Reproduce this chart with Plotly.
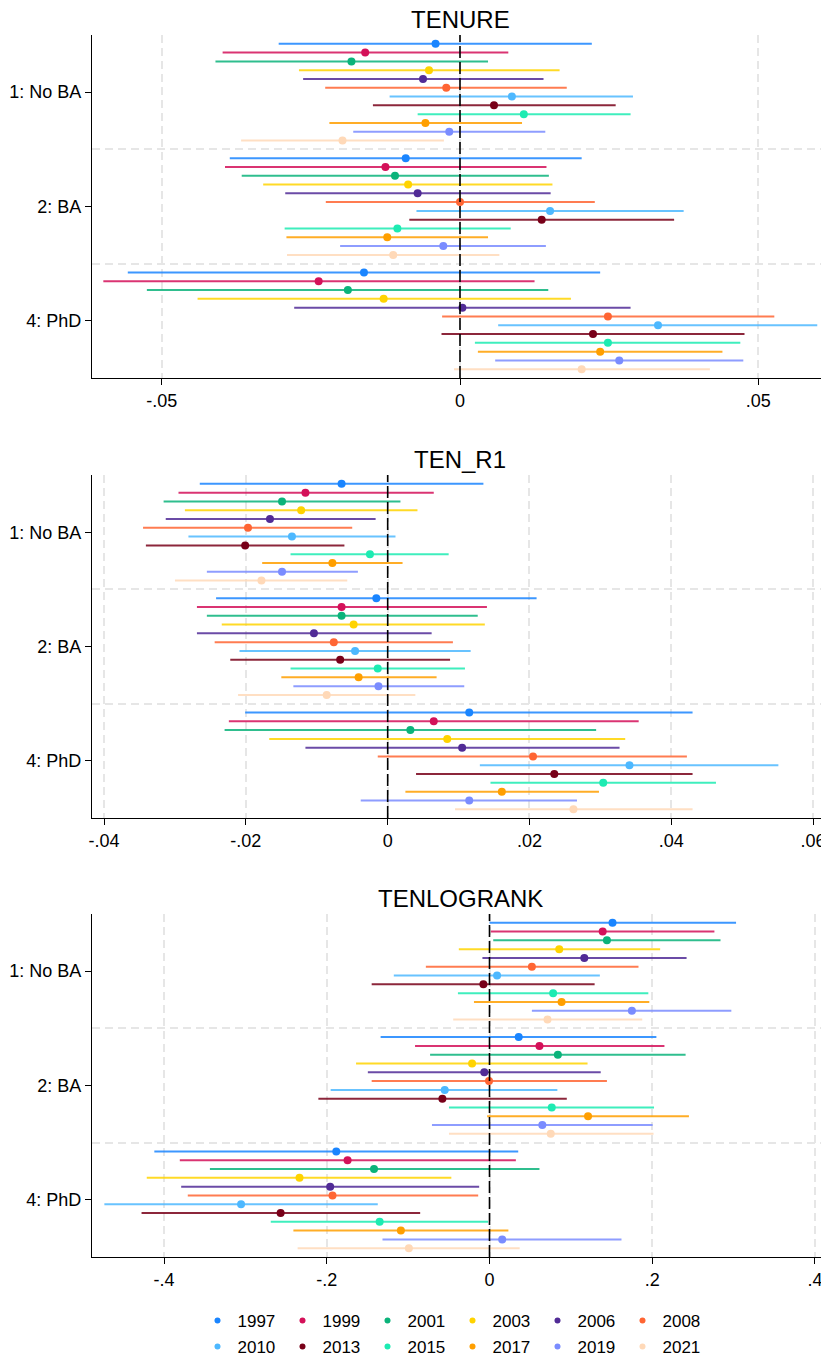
import plotly.graph_objects as go
from plotly.subplots import make_subplots

years = ["1997", "1999", "2001", "2003", "2006", "2008",
         "2010", "2013", "2015", "2017", "2019", "2021"]
colors = ["#1A85FF", "#D41159", "#0BB37A", "#FFD300", "#512B96", "#FF6533",
          "#4DB8FF", "#780019", "#1DEBB2", "#FF9F00", "#7A8CFF", "#FFD9B8"]
groups = ["1: No BA", "2: BA", "4: PhD"]
titles = ["TENURE", "TEN_R1", "TENLOGRANK"]

# ---- TENURE ----
tenure_b = [
    [-0.0041, -0.0159, -0.0182, -0.0052, -0.0062, -0.0023, 0.0087, 0.0057, 0.0107, -0.0058, -0.0018, -0.0197],
    [-0.0091, -0.0125, -0.0109, -0.0087, -0.0071, 0.0000, 0.0151, 0.0137, -0.0105, -0.0122, -0.0028, -0.0112],
    [-0.0161, -0.0237, -0.0188, -0.0128, 0.0004, 0.0248, 0.0332, 0.0223, 0.0248, 0.0235, 0.0267, 0.0204],
]
tenure_lo = [
    [-0.0304, -0.0398, -0.0410, -0.0270, -0.0263, -0.0226, -0.0118, -0.0146, -0.0071, -0.0219, -0.0179, -0.0367],
    [-0.0386, -0.0394, -0.0366, -0.0330, -0.0293, -0.0225, -0.0073, -0.0085, -0.0294, -0.0291, -0.0201, -0.0290],
    [-0.0557, -0.0598, -0.0525, -0.0440, -0.0278, -0.0030, 0.0064, -0.0031, 0.0025, 0.0030, 0.0059, -0.0010],
]
tenure_hi = [
    [0.0221, 0.0081, 0.0047, 0.0167, 0.0140, 0.0179, 0.0290, 0.0261, 0.0286, 0.0104, 0.0143, -0.0027],
    [0.0204, 0.0145, 0.0149, 0.0155, 0.0152, 0.0226, 0.0375, 0.0359, 0.0085, 0.0047, 0.0144, 0.0066],
    [0.0235, 0.0125, 0.0148, 0.0186, 0.0286, 0.0527, 0.0599, 0.0477, 0.0470, 0.0440, 0.0475, 0.0419],
]

# ---- TEN_R1 ----
tenr1_b = [
    [-0.0065, -0.0116, -0.0149, -0.0122, -0.0166, -0.0197, -0.0135, -0.0201, -0.0025, -0.0078, -0.0149, -0.0178],
    [-0.0016, -0.0065, -0.0065, -0.0048, -0.0104, -0.0076, -0.0046, -0.0067, -0.0014, -0.0041, -0.0013, -0.0086],
    [0.0115, 0.0065, 0.0032, 0.0084, 0.0105, 0.0205, 0.0341, 0.0235, 0.0304, 0.0161, 0.0115, 0.0262],
]
tenr1_lo = [
    [-0.0265, -0.0295, -0.0316, -0.0286, -0.0313, -0.0345, -0.0281, -0.0341, -0.0137, -0.0177, -0.0255, -0.0300],
    [-0.0242, -0.0269, -0.0255, -0.0234, -0.0269, -0.0244, -0.0209, -0.0222, -0.0137, -0.0150, -0.0133, -0.0211],
    [-0.0201, -0.0224, -0.0230, -0.0167, -0.0116, -0.0014, 0.0130, 0.0040, 0.0145, 0.0025, -0.0038, 0.0095],
]
tenr1_hi = [
    [0.0135, 0.0065, 0.0018, 0.0042, -0.0017, -0.0050, 0.0011, -0.0061, 0.0086, 0.0021, -0.0042, -0.0057],
    [0.0210, 0.0140, 0.0127, 0.0137, 0.0062, 0.0092, 0.0117, 0.0088, 0.0109, 0.0069, 0.0108, 0.0039],
    [0.0430, 0.0354, 0.0294, 0.0335, 0.0327, 0.0422, 0.0551, 0.0430, 0.0463, 0.0298, 0.0267, 0.0430],
]

# ---- TENLOGRANK ----
tenlog_b = [
    [0.1512, 0.1391, 0.1443, 0.0857, 0.1165, 0.0521, 0.0093, -0.0075, 0.0782, 0.0886, 0.1750, 0.0713],
    [0.0359, 0.0614, 0.0840, -0.0214, -0.0064, -0.0006, -0.0550, -0.0579, 0.0765, 0.1211, 0.0649, 0.0753],
    [-0.1883, -0.1744, -0.1419, -0.2335, -0.1958, -0.1929, -0.3053, -0.2567, -0.1350, -0.1089, 0.0156, -0.0991],
]
tenlog_lo = [
    [0.0000, 0.0017, 0.0046, -0.0377, -0.0087, -0.0782, -0.1176, -0.1448, -0.0388, -0.0191, 0.0521, -0.0446],
    [-0.1338, -0.0915, -0.0730, -0.1640, -0.1495, -0.1448, -0.1952, -0.2103, -0.0498, -0.0029, -0.0707, -0.0498],
    [-0.4119, -0.3806, -0.3436, -0.4212, -0.3789, -0.3708, -0.4733, -0.4276, -0.2688, -0.2410, -0.1315, -0.2358],
]
tenlog_hi = [
    [0.3030, 0.2764, 0.2839, 0.2097, 0.2422, 0.1831, 0.1356, 0.1292, 0.1952, 0.1964, 0.2972, 0.1877],
    [0.2051, 0.2150, 0.2410, 0.1205, 0.1367, 0.1443, 0.0834, 0.0950, 0.2022, 0.2451, 0.2005, 0.2016],
    [0.0353, 0.0324, 0.0614, -0.0469, -0.0127, -0.0139, -0.1373, -0.0852, -0.0017, 0.0232, 0.1622, 0.0371],
]

x_tickvals = [[-0.05, 0, 0.05],
              [-0.04, -0.02, 0, 0.02, 0.04, 0.06],
              [-0.4, -0.2, 0, 0.2, 0.4]]
x_ticktext = [["-.05", "0", ".05"],
              ["-.04", "-.02", "0", ".02", ".04", ".06"],
              ["-.4", "-.2", "0", ".2", ".4"]]
x_ranges = [[-0.0617, 0.0617], [-0.0417, 0.0621], [-0.4885, 0.416]]

panels = [(tenure_b, tenure_lo, tenure_hi),
          (tenr1_b, tenr1_lo, tenr1_hi),
          (tenlog_b, tenlog_lo, tenlog_hi)]

FONT = "Liberation Sans, Arial, sans-serif"
NROW = len(years)
GAP = NROW + 1


def rgba(hexc, a):
    h = hexc.lstrip("#")
    return "rgba(%d,%d,%d,%.2f)" % (int(h[0:2], 16), int(h[2:4], 16), int(h[4:6], 16), a)


fig = make_subplots(rows=3, cols=1)

for p, (B, LO, HI) in enumerate(panels):
    for i, yr in enumerate(years):
        xs, ys, ep, em = [], [], [], []
        for g in range(len(groups)):
            b = B[g][i]
            xs.append(b)
            ys.append(g * GAP + i)
            ep.append(HI[g][i] - b)
            em.append(b - LO[g][i])
        fig.add_trace(go.Scatter(
            x=xs, y=ys, mode="markers", name=yr,
            marker=dict(color=colors[i], size=8, line=dict(width=0)),
            error_x=dict(type="data", symmetric=False, array=ep, arrayminus=em,
                         color=rgba(colors[i], 0.85), thickness=2, width=0),
            showlegend=False, hoverinfo="x+name",
        ), row=p + 1, col=1)

# legend entries (small dots, as in the reference key)
for i, yr in enumerate(years):
    fig.add_trace(go.Scatter(
        x=[None], y=[None], mode="markers", name=yr,
        marker=dict(color=colors[i], size=6, line=dict(width=0)),
        showlegend=True, legend="legend" if i < 6 else "legend2",
    ), row=1, col=1)

domains = [[0.7193, 1.0], [0.3592, 0.6399], [0.0, 0.2807]]
ytickvals = [g * GAP + (NROW - 1) / 2 for g in range(len(groups))]
ybounds = [g * GAP - 1 for g in range(1, len(groups))]

for p in range(3):
    sx = "" if p == 0 else str(p + 1)
    fig.update_layout(**{
        "xaxis" + sx: dict(
            range=x_ranges[p], tickvals=x_tickvals[p], ticktext=x_ticktext[p],
            showgrid=True, gridcolor="#e6e6e6", griddash="8px,5px", gridwidth=1.5,
            zeroline=False, showline=True, linecolor="black", linewidth=1.3,
            ticks="outside", ticklen=6, tickcolor="black", tickwidth=1.2,
            tickfont=dict(size=18, color="black", family=FONT), automargin=False,
        ),
        "yaxis" + sx: dict(
            domain=domains[p], range=[NROW * 3 + 2, -1],
            tickvals=ytickvals, ticktext=groups,
            showgrid=False, zeroline=False, showline=True, linecolor="black", linewidth=1.3,
            ticks="outside", ticklen=6, tickcolor="black", tickwidth=1.2,
            tickfont=dict(size=18, color="black", family=FONT), automargin=False,
            minor=dict(tickvals=ybounds, showgrid=True, gridcolor="#e6e6e6",
                       griddash="8px,5px", gridwidth=1.5, ticks=""),
        ),
    })
    fig.add_shape(type="line", xref="x" + sx, yref="y" + sx + " domain",
                  x0=0, x1=0, y0=0, y1=1, layer="above",
                  line=dict(color="black", width=1.6, dash="12px,4px"))
    fig.add_annotation(text=titles[p], xref="x" + sx + " domain", yref="y" + sx + " domain",
                       x=0.5, y=1, xanchor="center", yanchor="bottom", yshift=0,
                       showarrow=False, font=dict(size=24, color="black", family=FONT))

legend_common = dict(orientation="h", x=0.4898, xanchor="center", yanchor="middle",
                     font=dict(size=17, color="black", family=FONT),
                     entrywidth=40, entrywidthmode="pixels", itemwidth=30,
                     bgcolor="rgba(0,0,0,0)", borderwidth=0)

fig.update_layout(
    width=829, height=1361,
    margin=dict(l=84, r=9, t=27, b=112, autoexpand=False),
    paper_bgcolor="white", plot_bgcolor="white",
    font=dict(family=FONT, color="black"),
    legend=dict(y=-0.0524, **legend_common),
    legend2=dict(y=-0.0736, **legend_common),
)

fig.write_html("out.html")
